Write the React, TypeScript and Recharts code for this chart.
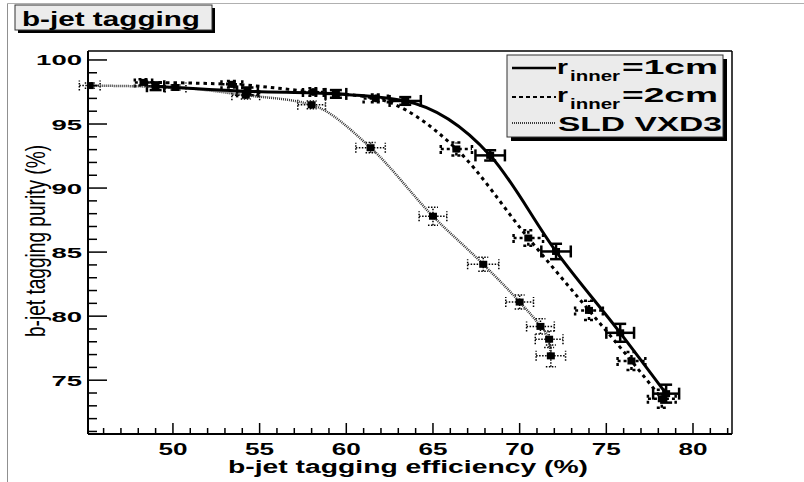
import React from 'react';
import { ScatterChart, Scatter, XAxis, YAxis, ErrorBar } from 'recharts';

// r_inner = 1cm (solid)
const solidX = [49.0, 54.3, 59.4, 63.4, 68.3, 72.1, 75.8, 78.45];
const solidY = [97.95, 97.55, 97.35, 96.8, 92.55, 85.05, 78.7, 73.95];
const solidEx = [0.5, 0.6, 0.6, 0.9, 0.85, 0.85, 0.8, 0.75];
const solidEy = [0.3, 0.3, 0.3, 0.3, 0.4, 0.6, 0.7, 0.7];

// r_inner = 2cm (dashed)
const dashX = [48.3, 53.4, 58.1, 61.7, 66.35, 70.5, 74.0, 76.45, 78.2];
const dashY = [98.25, 98.1, 97.5, 97.0, 93.05, 86.1, 80.45, 76.5, 73.55];
const dashEx = [0.5, 0.6, 0.6, 0.7, 0.9, 0.85, 0.8, 0.8, 0.8];
const dashEy = [0.25, 0.25, 0.3, 0.3, 0.5, 0.6, 0.75, 0.7, 0.7];

// SLD VXD3 (dotted)
const sldX = [45.2, 50.15, 54.2, 58.0, 61.4, 65.0, 67.9, 70.0, 71.2, 71.7, 71.8];
const sldY = [98.0, 97.85, 97.25, 96.5, 93.15, 87.8, 84.05, 81.1, 79.2, 78.2, 76.9];
const sldEx = [0.6, 0.6, 0.8, 0.8, 0.85, 0.8, 0.9, 0.8, 0.8, 0.8, 0.85];
const sldEy = [0.2, 0.2, 0.3, 0.3, 0.4, 0.7, 0.55, 0.55, 0.6, 0.65, 0.85];

const xTicks = [46, 47, 48, 49, 50, 51, 52, 53, 54, 55, 56, 57, 58, 59, 60, 61, 62, 63, 64, 65, 66, 67, 68, 69, 70, 71, 72, 73, 74, 75, 76, 77, 78, 79, 80, 81, 82];
const yTicks = [71, 72, 73, 74, 75, 76, 77, 78, 79, 80, 81, 82, 83, 84, 85, 86, 87, 88, 89, 90, 91, 92, 93, 94, 95, 96, 97, 98, 99, 100];
const xMajor = [50, 55, 60, 65, 70, 75, 80];
const yMajor = [75, 80, 85, 90, 95, 100];

const FONT = '"Liberation Sans", Arial, Helvetica, sans-serif';

function makePoints(xs: number[], ys: number[], exs: number[], eys: number[]) {
  return xs.map((x, i) => ({ x, y: ys[i], ex: exs[i], ey: eys[i] }));
}

const solidData = makePoints(solidX, solidY, solidEx, solidEy);
const dashData = makePoints(dashX, dashY, dashEx, dashEy);
const sldData = makePoints(sldX, sldY, sldEx, sldEy);

const Square = (p: any) => (
  <rect x={p.cx - 4} y={p.cy - 3.5} width={8} height={7} fill="#000" />
);

const XTick = (p: any) => {
  const v = p.payload.value;
  const major = xMajor.includes(v);
  return (
    <g>
      <line x1={p.x} y1={p.y} x2={p.x} y2={p.y - (major ? 11 : 6)} stroke="#000" strokeWidth={1.5} />
      {major && (
        <text x={p.x - 14.5} y={p.y + 21} fontFamily={FONT} fontWeight="bold" fontSize={16} fill="#000"
          textLength={29} lengthAdjust="spacingAndGlyphs">{String(v)}</text>
      )}
    </g>
  );
};

const YTick = (p: any) => {
  const v = p.payload.value;
  const major = yMajor.includes(v);
  const s = String(v);
  const w = s.length * 15.3;
  return (
    <g>
      <line x1={p.x} y1={p.y} x2={p.x + (major ? 19 : 9)} y2={p.y} stroke="#000" strokeWidth={1.5} />
      {major && (
        <text x={p.x - 6 - w} y={p.y + 5.5} fontFamily={FONT} fontWeight="bold" fontSize={15.5} fill="#000"
          textLength={w} lengthAdjust="spacingAndGlyphs">{s}</text>
      )}
    </g>
  );
};

export default function App() {
  return (
    <div style={{ position: 'absolute', left: 0, top: 0, width: 804, height: 482, background: '#fff' }}>
      <ScatterChart width={804} height={482} margin={{ top: 51, right: 72, bottom: 18, left: 28 }}>
        <XAxis type="number" dataKey="x" domain={[45.1, 82.25]} allowDataOverflow ticks={xTicks} interval={0}
          tickLine={false} tickSize={0} tickMargin={0} height={30}
          axisLine={{ stroke: '#000', strokeWidth: 2 }} tick={<XTick />} />
        <YAxis type="number" dataKey="y" domain={[70.8, 100.7]} allowDataOverflow ticks={yTicks} interval={0}
          tickLine={false} tickSize={0} tickMargin={0} width={60}
          axisLine={{ stroke: '#000', strokeWidth: 2 }} tick={<YTick />} />
        <Scatter data={sldData} fill="#000" shape={Square} isAnimationActive={false}
          line={{ stroke: '#333', strokeWidth: 2.5, strokeDasharray: '1 1' }} lineJointType="monotoneX">
          <ErrorBar dataKey="ex" direction="x" width={5} stroke="#000" strokeWidth={1.5} strokeDasharray="1.5 1.5" />
          <ErrorBar dataKey="ey" direction="y" width={5} stroke="#000" strokeWidth={1.5} strokeDasharray="1.5 1.5" />
        </Scatter>
        <Scatter data={dashData} fill="#000" shape={Square} isAnimationActive={false}
          line={{ stroke: '#000', strokeWidth: 3, strokeDasharray: '3.5 4' }} lineJointType="monotoneX">
          <ErrorBar dataKey="ex" direction="x" width={5} stroke="#000" strokeWidth={2.5} strokeDasharray="3 3" />
          <ErrorBar dataKey="ey" direction="y" width={5} stroke="#000" strokeWidth={2.5} strokeDasharray="3 3" />
        </Scatter>
        <Scatter data={solidData} fill="#000" shape={Square} isAnimationActive={false}
          line={{ stroke: '#000', strokeWidth: 3 }} lineJointType="monotoneX">
          <ErrorBar dataKey="ex" direction="x" width={6} stroke="#000" strokeWidth={2.5} />
          <ErrorBar dataKey="ey" direction="y" width={6} stroke="#000" strokeWidth={2.5} />
        </Scatter>
      </ScatterChart>
      <svg width={804} height={482} style={{ position: 'absolute', left: 0, top: 0, pointerEvents: 'none' }}>
        {/* canvas frame */}
        <line x1={7.5} y1={3.5} x2={804} y2={3.5} stroke="#b0b0b0" strokeWidth={1} />
        <line x1={7.5} y1={3.5} x2={7.5} y2={482} stroke="#909090" strokeWidth={1} />
        {/* plot frame top/right */}
        <line x1={88} y1={51} x2={732} y2={51} stroke="#000" strokeWidth={1.5} />
        <line x1={732} y1={51} x2={732} y2={434} stroke="#000" strokeWidth={1.5} />
        {/* title box */}
        <rect x={18} y={8} width={197} height={25} fill="#000" />
        <rect x={15} y={5} width={197} height={25} fill="#ececec" stroke="#333" strokeWidth={1} />
        <text x={22} y={26} fontFamily={FONT} fontWeight="bold" fontSize={19.5} fill="#000"
          textLength={178} lengthAdjust="spacingAndGlyphs">b-jet tagging</text>
        {/* legend */}
        <rect x={511} y={59} width={216} height={82} fill="#000" />
        <rect x={507} y={55} width={216} height={82} fill="#ebebeb" stroke="#333" strokeWidth={1} />
        <line x1={512} y1={68} x2={556} y2={68} stroke="#000" strokeWidth={2.5} />
        <line x1={512} y1={97} x2={556} y2={97} stroke="#000" strokeWidth={2} strokeDasharray="4 3" />
        <line x1={512} y1={123} x2={556} y2={123} stroke="#000" strokeWidth={1.5} strokeDasharray="1 1" />
        <text x={557} y={74} fontFamily={FONT} fontWeight="bold" fontSize={21} textLength={11} lengthAdjust="spacingAndGlyphs">r</text>
        <text x={570} y={81} fontFamily={FONT} fontWeight="bold" fontSize={14} textLength={50} lengthAdjust="spacingAndGlyphs">inner</text>
        <text x={622} y={74} fontFamily={FONT} fontWeight="bold" fontSize={21} textLength={96} lengthAdjust="spacingAndGlyphs">=1cm</text>
        <text x={557} y={102} fontFamily={FONT} fontWeight="bold" fontSize={21} textLength={11} lengthAdjust="spacingAndGlyphs">r</text>
        <text x={570} y={109} fontFamily={FONT} fontWeight="bold" fontSize={14} textLength={50} lengthAdjust="spacingAndGlyphs">inner</text>
        <text x={622} y={102} fontFamily={FONT} fontWeight="bold" fontSize={21} textLength={96} lengthAdjust="spacingAndGlyphs">=2cm</text>
        <text x={558} y={131} fontFamily={FONT} fontWeight="bold" fontSize={20} textLength={164} lengthAdjust="spacingAndGlyphs">SLD VXD3</text>
        {/* axis titles */}
        <text x={228} y={473} fontFamily={FONT} fontWeight="bold" fontSize={17.5} textLength={360} lengthAdjust="spacingAndGlyphs">b-jet tagging efficiency (%)</text>
        <text transform="translate(45,241) scale(1.4,1) rotate(-90)" x={0} y={0} textAnchor="middle"
          fontFamily={FONT} fontSize={19.5} textLength={192} lengthAdjust="spacingAndGlyphs">b-jet tagging purity (%)</text>
      </svg>
    </div>
  );
}
